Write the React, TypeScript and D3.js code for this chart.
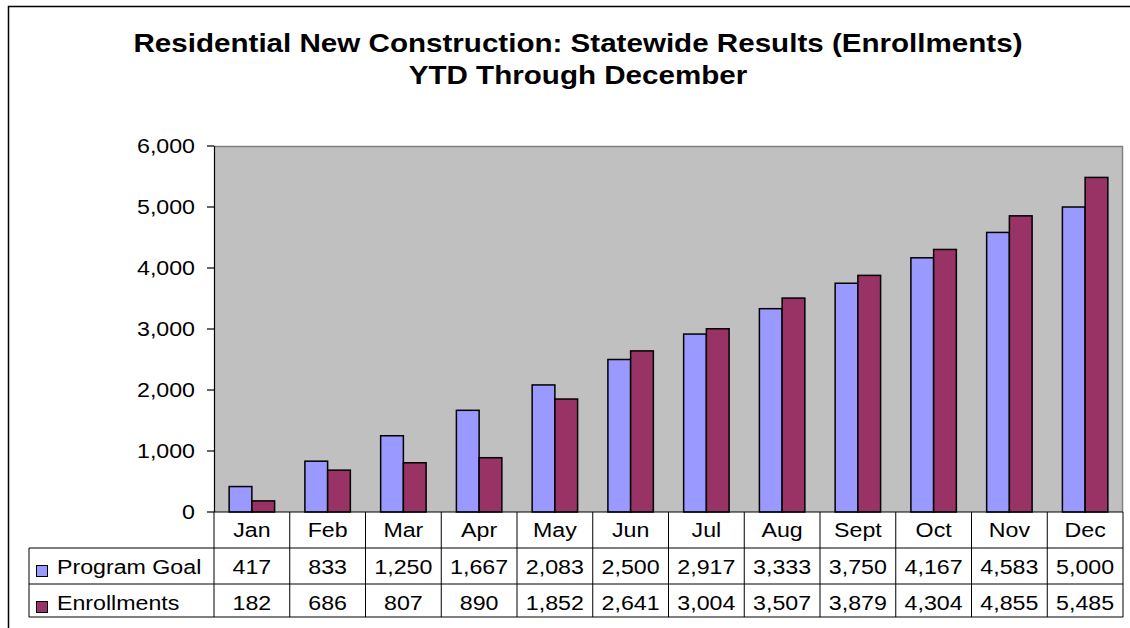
import React from 'react';
import { scaleBand, scaleLinear, format } from 'd3';

const months = ['Jan', 'Feb', 'Mar', 'Apr', 'May', 'Jun', 'Jul', 'Aug', 'Sept', 'Oct', 'Nov', 'Dec'];
const programGoal = [417, 833, 1250, 1667, 2083, 2500, 2917, 3333, 3750, 4167, 4583, 5000];
const enrollments = [182, 686, 807, 890, 1852, 2641, 3004, 3507, 3879, 4304, 4855, 5485];
const yTicks = [0, 1000, 2000, 3000, 4000, 5000, 6000];
const seriesNames = ['Program Goal', 'Enrollments'];
const seriesColors = ['#9999FF', '#993366'];

const W = 1130;
const H = 628;
const SX = 1.16; // the picture's text is stretched sideways
const FONT = 'Arial, "Liberation Sans", Helvetica, sans-serif';

const left = 214;
const right = 1123;
const top = 146;
const bottom = 512;
const rowY = [512, 548, 584, 617];
const tableLeft = 29;

const Txt = ({ x, y, anchor = 'middle', size = 20, weight = 'normal', children }: any) => (
  <text
    transform={`translate(${x},${y}) scale(${SX},1)`}
    textAnchor={anchor}
    fontSize={size}
    fontWeight={weight}
    fontFamily={FONT}
    fill="#000"
  >
    {children}
  </text>
);

export default function App() {
  const x0 = scaleBand<string>().domain(months).range([left, right]).padding(0);
  const bw = x0.bandwidth();
  const x1 = scaleBand<string>().domain(seriesNames).range([bw * 0.2, bw * 0.8]).padding(0);
  const y = scaleLinear().domain([0, 6000]).range([bottom, top]);
  const fmt = format(',');
  const series = [programGoal, enrollments];

  return (
    <svg width={W} height={H} style={{ display: 'block', position: 'absolute', left: 0, top: 0 }}>
      <rect width={W} height={H} fill="#fff" />
      {/* outer frame */}
      <path d={`M8.5,${H} V6.5 H${W}`} fill="none" stroke="#000" strokeWidth={1.5} />

      {/* title */}
      <Txt x={578} y={52} size={25.5} weight="bold">
        Residential New Construction: Statewide Results (Enrollments)
      </Txt>
      <Txt x={578} y={84} size={25.5} weight="bold">
        YTD Through December
      </Txt>

      {/* plot area */}
      <rect x={left} y={top} width={right - left} height={bottom - top} fill="#C0C0C0" />
      <path d={`M${left},${top + 0.5} H${right - 0.5} V${bottom}`} fill="none" stroke="#808080" strokeWidth={1.5} />

      {/* bars */}
      {series.map((vals, si) => (
        <g key={si}>
          {vals.map((v, i) => (
            <rect
              key={i}
              x={x0(months[i])! + x1(seriesNames[si])!}
              y={y(v)}
              width={x1.bandwidth()}
              height={y(0) - y(v)}
              fill={seriesColors[si]}
              stroke="#000"
              strokeWidth={1.5}
            />
          ))}
        </g>
      ))}

      {/* y axis */}
      <line x1={left + 0.5} x2={left + 0.5} y1={top} y2={bottom} stroke="#000" strokeWidth={1.2} />
      {yTicks.map((t) => (
        <g key={t}>
          <line x1={left - 7} x2={left} y1={y(t)} y2={y(t)} stroke="#000" strokeWidth={1.2} />
          <Txt x={left - 19} y={y(t) + 7} anchor="end" size={20}>
            {fmt(t)}
          </Txt>
        </g>
      ))}

      {/* data table */}
      <line x1={left} x2={right} y1={bottom} y2={bottom} stroke="#000" strokeWidth={1.2} />
      {[rowY[1], rowY[2], rowY[3]].map((ry) => (
        <line key={ry} x1={tableLeft} x2={right} y1={ry} y2={ry} stroke="#000" strokeWidth={1} />
      ))}
      <line x1={tableLeft} x2={tableLeft} y1={rowY[1]} y2={rowY[3]} stroke="#000" strokeWidth={1} />
      {months.map((m) => (
        <line key={m} x1={x0(m)!} x2={x0(m)!} y1={rowY[0]} y2={rowY[3]} stroke="#000" strokeWidth={1} />
      ))}
      <line x1={right} x2={right} y1={rowY[0]} y2={rowY[3]} stroke="#000" strokeWidth={1} />

      {months.map((m) => (
        <Txt key={m} x={x0(m)! + bw / 2} y={rowY[0] + 25} size={20}>
          {m}
        </Txt>
      ))}
      {series.map((vals, si) => (
        <g key={si}>
          <rect
            x={36.5}
            y={rowY[si + 1] + 17.5}
            width={11}
            height={11}
            fill={seriesColors[si]}
            stroke="#000"
            strokeWidth={1}
          />
          <Txt x={57} y={rowY[si + 1] + 26} anchor="start" size={20}>
            {seriesNames[si]}
          </Txt>
          {vals.map((v, i) => (
            <Txt key={i} x={x0(months[i])! + bw / 2} y={rowY[si + 1] + 26} size={20}>
              {fmt(v)}
            </Txt>
          ))}
        </g>
      ))}
    </svg>
  );
}
